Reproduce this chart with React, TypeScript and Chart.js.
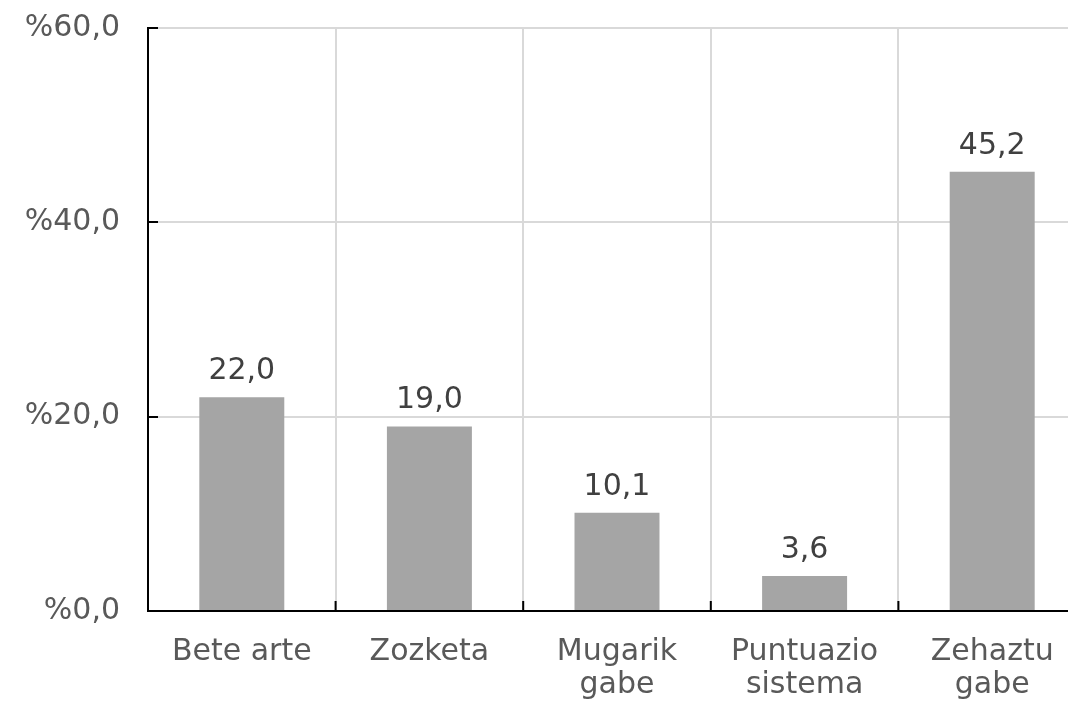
import React, { useEffect, useRef } from "react";
import { Chart, registerables } from "chart.js";

Chart.register(...registerables);

const categories: (string | string[])[] = [
  "Bete arte",
  "Zozketa",
  ["Mugarik", "gabe"],
  ["Puntuazio", "sistema"],
  ["Zehaztu", "gabe"],
];
const values: number[] = [22.0, 19.0, 10.1, 3.6, 45.2];
const yTicks: number[] = [0, 20, 40, 60];

const FONT = "'DejaVu Sans', Verdana, sans-serif";
const FS = 30;
const fmt = (v: number) => v.toFixed(1).replace(".", ",");

const extrasPlugin = {
  id: "extras",
  afterDraw(chart: any) {
    const ctx = chart.ctx;
    const area = chart.chartArea;
    const y = chart.scales.y;
    ctx.save();
    ctx.strokeStyle = "#000";
    ctx.lineWidth = 2;
    ctx.beginPath();
    yTicks.forEach((t) => {
      const py = Math.round(y.getPixelForValue(t));
      ctx.moveTo(area.left, py);
      ctx.lineTo(area.left + 10, py);
    });
    const n = categories.length;
    for (let i = 0; i <= n; i++) {
      const px = area.left + ((area.right - area.left) * i) / n;
      ctx.moveTo(px, area.bottom);
      ctx.lineTo(px, area.bottom - 10);
    }
    ctx.stroke();
    ctx.fillStyle = "#404040";
    ctx.font = `${FS}px ${FONT}`;
    ctx.textAlign = "center";
    ctx.textBaseline = "alphabetic";
    const meta = chart.getDatasetMeta(0);
    meta.data.forEach((bar: any, i: number) => {
      ctx.fillText(fmt(values[i]), bar.x, bar.y - 18);
    });
    ctx.restore();
  },
};

export default function App() {
  const ref = useRef<HTMLCanvasElement | null>(null);
  useEffect(() => {
    if (!ref.current) return;
    const chart = new Chart(ref.current, {
      type: "bar",
      data: {
        labels: categories,
        datasets: [
          {
            data: values,
            backgroundColor: "#a5a5a5",
            borderWidth: 0,
            barPercentage: 0.453,
            categoryPercentage: 1,
          },
        ],
      },
      options: {
        responsive: false,
        animation: false,
        devicePixelRatio: 1,
        layout: { padding: { left: 0, top: 10, right: 4, bottom: 0 } },
        plugins: {
          legend: { display: false },
          tooltip: { enabled: false },
        },
        scales: {
          x: {
            offset: true,
            grid: {
              offset: true,
              color: "#d9d9d9",
              lineWidth: 2,
              drawTicks: false,
            },
            border: { color: "#000", width: 2 },
            ticks: {
              color: "#595959",
              font: { family: FONT, size: FS, lineHeight: 1.117 },
              padding: 24,
              maxRotation: 0,
              autoSkip: false,
            },
            afterFit(scale: any) {
              scale.height = 93;
            },
          },
          y: {
            min: 0,
            max: 60,
            grid: { color: "#d9d9d9", lineWidth: 2, drawTicks: false },
            border: { color: "#000", width: 2 },
            ticks: {
              stepSize: 20,
              color: "#595959",
              font: { family: FONT, size: FS },
              padding: 28,
              callback: (v: any) => "%" + fmt(Number(v)),
            },
            afterFit(scale: any) {
              scale.width = 148;
            },
          },
        },
      },
      plugins: [extrasPlugin],
    });
    return () => chart.destroy();
  }, []);
  return (
    <div
      style={{
        position: "fixed",
        left: 0,
        top: 0,
        width: 1068,
        height: 704,
        overflow: "hidden",
        background: "#fff",
      }}
    >
      <canvas
        ref={ref}
        width={1090}
        height={722}
        style={{ display: "block", position: "absolute", left: 0, top: -18 }}
      />
    </div>
  );
}
